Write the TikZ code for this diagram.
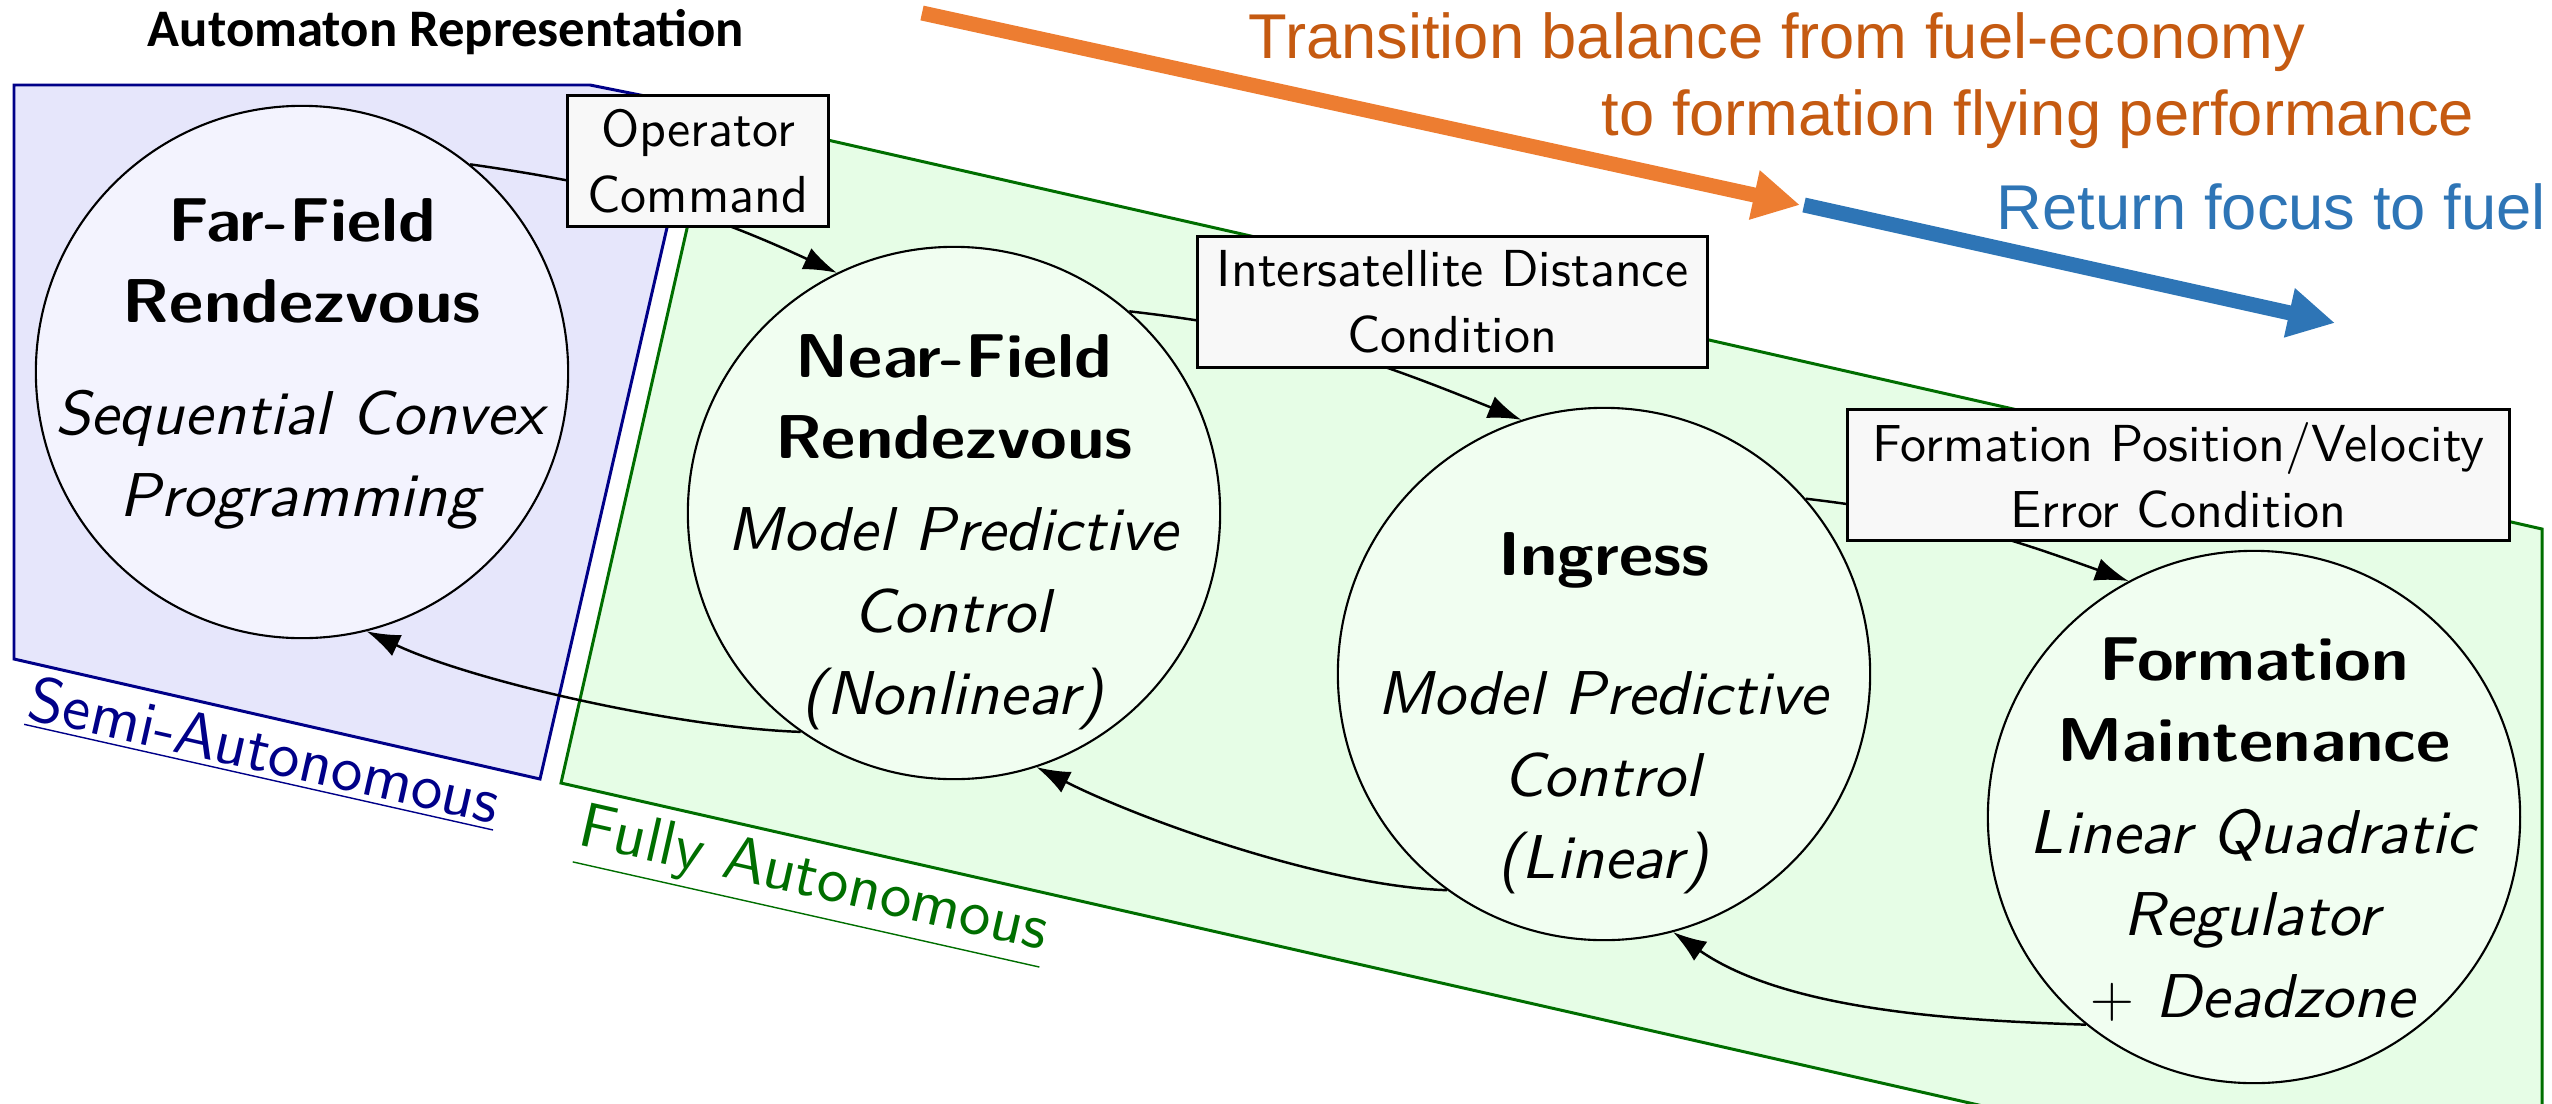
\documentclass[tikz,border=0pt]{standalone}
\usepackage{fontspec}
% Latin Modern Sans at its 10pt design size for every size used
\setsansfont{lmsans10-regular.otf}[
  BoldFont=lmsans10-bold.otf,
  BoldFeatures={FakeStretch=1.08},
  ItalicFont=lmsans10-oblique.otf,
  ItalicFeatures={FakeStretch=1.03},
  BoldItalicFont=lmsans10-boldoblique.otf]
\newfontfamily\calibrifont{Carlito}
\newfontfamily\arialfont{Liberation Sans}
\usetikzlibrary{arrows.meta}

\definecolor{semifill}{HTML}{E6E6FB}
\definecolor{semiline}{HTML}{000088}
\definecolor{fullfill}{HTML}{E6FDE6}
\definecolor{fullline}{HTML}{006E00}
\definecolor{semistate}{HTML}{F3F3FE}
\definecolor{fullstate}{HTML}{F1FEF1}
\definecolor{condfill}{HTML}{F8F8F8}
\definecolor{econarrow}{HTML}{ED7D31}
\definecolor{econtext}{HTML}{C55A11}
\definecolor{fuelblue}{HTML}{2E75B6}

\newcommand\statefont{\sffamily\fontsize{17.6}{23.2}\selectfont}
\newcommand\condfont{\sffamily\fontsize{14.8}{18.8}\selectfont}
\newcommand\zonefont{\sffamily\fontsize{18}{22}\selectfont}
\newcommand\titlefont{\calibrifont\bfseries\fontsize{15}{18}\selectfont}
\newcommand\bannerfont{\arialfont\fontsize{18}{21.6}\selectfont}

\begin{document}
\begin{tikzpicture}[x=0.01cm, y=-0.01cm,
  region/.style={line width=0.85pt, line join=miter},
  statebox/.style={circle, draw, line width=0.6pt, minimum size=5.32cm, inner sep=0pt},
  statetext/.style={align=center, anchor=base, inner sep=0pt, font=\statefont},
  condbox/.style={draw, fill=condfill, line width=0.85pt, align=center, inner sep=0pt,
                  minimum height=1.3cm, font=\condfont},
  trans/.style={line width=0.7pt, -{Latex[length=9.5pt,width=6.6pt]}},
  zonelabel/.style={rotate=-12.7, anchor=base, inner sep=0pt, font=\zonefont},
  banner/.style={anchor=base west, inner sep=0pt, font=\bannerfont},
  bigarrow/.style={line width=4.27pt, -{Triangle[length=13.3pt,width=13.4pt]}},
]
\useasboundingbox (0,0) rectangle (2552,1103);

% mode regions
\fill[semifill] (14,85) -- (590,85) -- (695,106) -- (540,779) -- (14,659) -- cycle;
\draw[region, semiline] (14,85) -- (590,85) -- (695,106) -- (540,779) -- (14,659) -- cycle;
\begin{scope}
  \clip (0,0) rectangle (2552,1103);
  \fill[fullfill] (713,114) -- (2542,529) -- (2542,1233) -- (561,783) -- cycle;
  \draw[region, fullline] (713,114) -- (2542,529) -- (2542,1233) -- (561,783) -- cycle;
\end{scope}

% automaton states
\node[statebox, fill=semistate] (FF) at (302,372) {};
\node[statebox, fill=fullstate] (NF) at (954,513) {};
\node[statebox, fill=fullstate] (IN) at (1604,674) {};
\node[statebox, fill=fullstate] (FM) at (2254,817) {};

% state labels, placed by the baseline of their last line
\node[statetext] (FFtxt) at (302,516)
  {\textbf{Far-Field}\\\textbf{Rendezvous}\\[8.5pt]\textit{Sequential Convex}\\\textit{Programming}};
\node[statetext] (NFtxt) at (954,714)
  {\textbf{Near-Field}\\\textbf{Rendezvous}\\[3pt]\textit{Model Predictive}\\\textit{Control}\\\textit{(Nonlinear)}};
\node[statetext] (INtxt) at (1604,878)
  {\textbf{Ingress}\\[16.4pt]\textit{Model Predictive}\\\textit{Control}\\\textit{(Linear)}};
\node[statetext] (FMtxt) at (2254,1017)
  {\textbf{Formation}\\\textbf{Maintenance}\\[3pt]\textit{Linear Quadratic}\\\textit{Regulator}\\\textit{$+$ Deadzone}};

% forward transitions
\draw[trans] (FF.51) .. controls +(148,21) and +(-136,-63) .. (NF.116);
\draw[trans] (NF.49) .. controls +(159,18) and +(-148,-60) .. (IN.108);
\draw[trans] (IN.41) .. controls +(129,15) and +(-122,-44) .. (FM.118);

% backward transitions
\draw[trans] (NF.235) .. controls +(-120,-4) and +(109,51) .. (FF.-76);
\draw[trans] (IN.234) .. controls +(-120,-4) and +(107,54) .. (NF.-72);
\draw[trans] (FM.231) .. controls +(-120,-4) and +(115,80) .. (IN.-75);

% transition conditions
\node[condbox, minimum width=2.6cm] (opcmd) at (698,161) {Operator\\Command};
\node[condbox, minimum width=5.09cm] (isdist) at (1452.5,302) {Intersatellite Distance\\Condition};
\node[condbox, minimum width=6.61cm] (fperr) at (2178.5,475) {Formation Position/Velocity\\Error Condition};

% region labels
\node[zonelabel, text=semiline] (semiLbl) at (260,771) {\underline{Semi-Autonomous}};
\node[zonelabel, text=fullline] (fullLbl) at (810,897) {\underline{Fully Autonomous}};

\node[anchor=base, inner sep=0pt, font=\titlefont] (title) at (446,47) {Automaton Representation};

% objective balance
\coordinate (econTail) at (922,13);
\coordinate (econHead) at (1800,205);
\coordinate (fuelTail) at (1804,205);
\coordinate (fuelHead) at (2335,323);
\draw[bigarrow, econarrow] (econTail) -- (econHead);
\draw[bigarrow, fuelblue] (fuelTail) -- (fuelHead);

\node[banner, text=econtext] (econA) at (1248,58) {Transition balance from fuel-economy};
\node[banner, text=econtext] (econB) at (1601,135) {to formation flying performance};
\node[banner, text=fuelblue] (fuelT) at (1996,229) {Return focus to fuel};
\end{tikzpicture}
\end{document}
